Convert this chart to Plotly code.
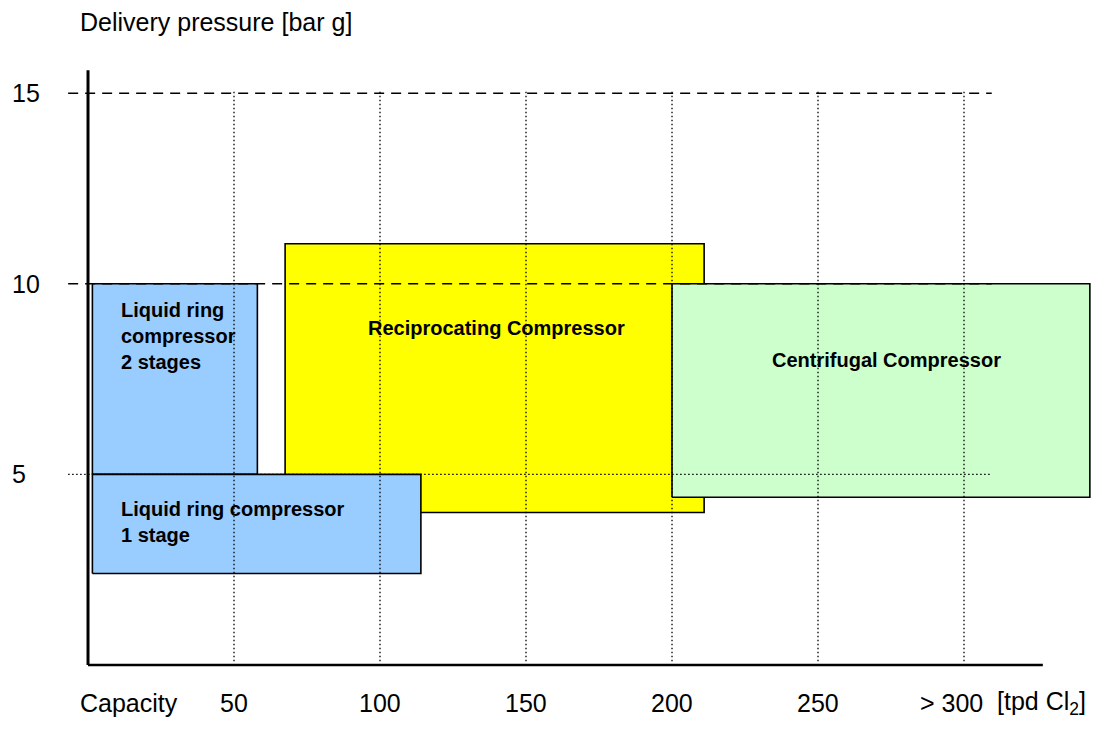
import plotly.graph_objects as go

# ---- data ----
box_names = ["Reciprocating Compressor", "Centrifugal Compressor",
             "Liquid ring compressor 2 stages", "Liquid ring compressor 1 stage"]
box_cap_min = [67.5, 200, 1.5, 1.5]      # capacity [tpd Cl2]
box_cap_max = [211, 343.1, 58, 114]
box_p_min = [4.0, 4.4, 5, 2.4]           # delivery pressure [bar g]
box_p_max = [11.05, 10, 10, 5]
box_colors = ["#FFFF00", "#CCFFCC", "#99CCFF", "#99CCFF"]

cap_ticks = [50, 100, 150, 200, 250, 300]
cap_tick_text = ["50", "100", "150", "200", "250", "> 300"]
p_levels = [15, 10, 5]
p_level_text = ["15", "10", "5"]
p_level_dash = ["10px,7px", "10px,7px", "1.5px,2.5px"]

FONT = "Arial, Liberation Sans, sans-serif"

fig = go.Figure()

# boxes
for name, x0, x1, y0, y1, c in zip(box_names, box_cap_min, box_cap_max,
                                   box_p_min, box_p_max, box_colors):
    fig.add_trace(go.Scatter(
        x=[x0, x1, x1, x0, x0], y=[y0, y0, y1, y1, y0],
        mode="lines", fill="toself", fillcolor=c,
        line=dict(color="black", width=1.6), name=name,
        hoverinfo="skip", showlegend=False))

shapes = []
# vertical dotted grid lines
for t in cap_ticks:
    shapes.append(dict(type="line", xref="x", yref="y", x0=t, x1=t, y0=0.1, y1=15.1,
                       line=dict(color="black", width=1.3, dash="1.5px,2.5px"),
                       layer="above"))
# horizontal pressure lines
for p, d in zip(p_levels, p_level_dash):
    shapes.append(dict(type="line", xref="x", yref="y", x0=-6.8, x1=309.5, y0=p, y1=p,
                       line=dict(color="black", width=1.5 if "10px" in d else 1.2, dash=d),
                       layer="above"))
# axes
shapes.append(dict(type="line", xref="x", yref="y", x0=0, x1=0, y0=0, y1=15.6,
                   line=dict(color="black", width=3), layer="above"))
shapes.append(dict(type="line", xref="x", yref="y", x0=0, x1=327, y0=0, y1=0,
                   line=dict(color="black", width=2.5), layer="above"))

annotations = []
# y level labels
for p, txt in zip(p_levels, p_level_text):
    annotations.append(dict(x=-26.7, y=p, xref="x", yref="y", text=txt, showarrow=False,
                            xanchor="left", yanchor="middle",
                            font=dict(family=FONT, size=25, color="black")))
# x tick labels
for t, txt in zip(cap_ticks, cap_tick_text):
    annotations.append(dict(x=t, y=-1.0, xref="x", yref="y", text=txt, showarrow=False,
                            xanchor="center", yanchor="middle",
                            xshift=-13 if t == 300 else 0,
                            font=dict(family=FONT, size=25, color="black")))
annotations.append(dict(x=300, y=-1.0, xref="x", yref="y", text="[tpd Cl<sub>2</sub>]",
                        showarrow=False, xanchor="left", yanchor="middle", xshift=31,
                        font=dict(family=FONT, size=25, color="black")))
annotations.append(dict(x=-3.4, y=-1.0, xref="x", yref="y", text="Capacity",
                        showarrow=False, xanchor="left", yanchor="middle",
                        font=dict(family=FONT, size=25, color="black")))
annotations.append(dict(x=-3.4, y=16.87, xref="x", yref="y", text="Delivery pressure [bar g]",
                        showarrow=False, xanchor="left", yanchor="middle",
                        font=dict(family=FONT, size=25, color="black")))

# box labels
bold = dict(family=FONT, size=20, color="black")
annotations += [
    dict(x=140, y=8.84, xref="x", yref="y", text="<b>Reciprocating Compressor</b>",
         showarrow=False, xanchor="center", yanchor="middle", font=bold),
    dict(x=273.3, y=8.0, xref="x", yref="y", text="<b>Centrifugal Compressor</b>",
         showarrow=False, xanchor="center", yanchor="middle", font=bold),
    dict(x=10.6, y=8.62, xref="x", yref="y",
         text="<b>Liquid ring<br>compressor<br>2 stages</b>", align="left",
         showarrow=False, xanchor="left", yanchor="middle", font=bold),
    dict(x=10.6, y=3.75, xref="x", yref="y",
         text="<b>Liquid ring compressor<br>1 stage</b>", align="left",
         showarrow=False, xanchor="left", yanchor="middle", font=bold),
]

# page body has an 8px margin on every side; size the figure so nothing overflows
fig.update_layout(
    width=1083, height=727,
    margin=dict(l=0, r=0, t=0, b=0),
    paper_bgcolor="white", plot_bgcolor="white",
    xaxis=dict(range=[-27.40, 343.49], visible=False, fixedrange=True),
    yaxis=dict(range=[-1.836, 17.235], visible=False, fixedrange=True),
    shapes=shapes, annotations=annotations, showlegend=False,
)

fig.write_html("out.html")
